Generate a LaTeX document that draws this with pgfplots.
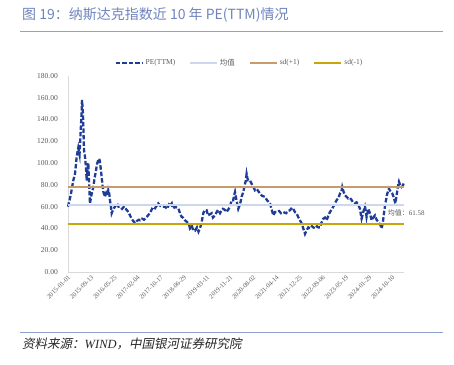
\documentclass[border=0pt]{standalone}
\usepackage{fontspec}
\setmainfont{Liberation Serif}
\newfontfamily\cjk{Noto Sans CJK SC}
\newfontfamily\cjkit[FakeSlant=0.2]{Noto Sans CJK SC}
\usepackage{pgfplots}
\usepackage{pgfplotstable}
\pgfplotsset{compat=1.18}
\definecolor{peblue}{HTML}{1F3C96}
\definecolor{meanblue}{HTML}{CDD8EF}
\definecolor{sdup}{HTML}{C89B6C}
\definecolor{sddn}{HTML}{C8A50A}
\definecolor{titleblue}{HTML}{6F84BD}
\definecolor{rulec}{HTML}{8FA2CF}
\definecolor{txt}{HTML}{595959}

\pgfplotstableread{
day pe
0 60
17 66
33 72
58 84
77 90
96 106
113 114
127 108
140 130
149 145
154 158
162 150
168 137
176 112
187 106
198 96
206 84
215 95
224 100
231 85
242 63
261 72
279 78
292 86
308 93
319 99
334 103
345 104
352 101
363 93
371 87
382 78
391 73
407 69
426 75
435 70
444 75
454 72
462 66
473 60
481 54
495 57
517 60
540 63
556 60
573 60
595 58
617 60
646 57
666 55
683 52
701 49
716 47
738 45
760 47
782 48
793 47.5
815 49
837 48
866 50.5
881 52
903 54
925 58
947 57
969 60
994 63
1013 61
1035 60
1068 60
1090 58
1112 62
1123 61
1142 63
1151 59
1160 58.5
1178 60
1200 59
1215 58.5
1233 54
1252 50.5
1266 50
1288 47.5
1310 46
1332 44
1343 40
1365 42
1380 38
1398 38
1420 41
1437 37
1453 40
1470 45
1490 54
1508 57
1527 56.7
1541 52
1563 53
1582 54
1596 50
1618 52
1637 55
1651 57
1674 54
1692 56.7
1707 58
1729 57
1747 55
1762 57
1784 60
1802 66
1820 66
1828 70
1839 73.5
1855 66
1875 58
1894 62
1912 69
1930 73.5
1949 81
1958 84
1967 90
1976 86
1985 84
2004 84
2022 81
2037 79
2059 75
2081 76
2114 72
2136 70
2169 69
2191 66
2224 63
2241 58
2261 52
2279 55
2298 55
2324 56
2346 54
2371 55
2401 54
2423 56
2444 56.7
2466 59
2481 58
2499 55
2518 53.7
2538 50
2554 47.5
2571 45
2591 40
2610 35
2626 38
2646 41
2664 40
2686 42
2701 41
2719 40
2741 42
2756 41
2774 41
2790 45
2811 49
2829 50
2848 47.5
2868 52
2884 55
2901 57
2921 60
2939 63
2958 66
2978 68
2995 72
3011 74
3020 78
3033 74
3050 70.5
3068 69
3086 67.5
3105 68
3124 66
3138 64
3160 63
3178 64
3196 62
3215 58
3226 52
3233 49
3251 55
3270 60
3281 55
3288 50.5
3306 58
3325 54
3343 47.5
3361 50
3380 52
3398 48
3417 46
3435 44
3454 40
3468 46
3479 53.7
3495 63
3516 72
3534 76.6
3552 74
3572 72
3589 68
3605 63
3627 75
3635 80
3644 83
3657 80
3673 78
3686 79
3695 81
3700 82
}\petable

\begin{document}
\begin{tikzpicture}
\useasboundingbox (0,0) rectangle (454bp,-365bp);
\node[anchor=west, inner sep=0pt, text=titleblue, font=\cjk\fontsize{14bp}{16bp}\selectfont] at (22bp,-15bp) {图 19：纳斯达克指数近 10 年 PE(TTM)情况};
\draw[rulec, line width=1bp] (20bp,-31bp) -- (443bp,-31bp);
\draw[rulec, line width=1bp] (20bp,-332bp) -- (443bp,-332bp);
\node[anchor=west, inner sep=0pt, text=black!85, font=\cjkit\fontsize{12.5bp}{14bp}\selectfont] at (22bp,-344bp) {资料来源：{\rmfamily\itshape WIND}，中国银河证券研究院};

\begin{axis}[
  at={(68bp,-272bp)}, anchor=south west,
  scale only axis, width=336bp, height=196bp,
  xmin=0, xmax=3700, ymin=0, ymax=180,
  clip=false,
  axis x line=bottom, axis y line=left,
  axis line style={-, draw=black!15, line width=0.8bp},
  major tick length=0pt,
  ytick={0,20,...,180},
  yticklabels={0.00,20.00,40.00,60.00,80.00,100.00,120.00,140.00,160.00,180.00},
  xtick={0,255,510,765,1020,1275,1530,1785,2040,2295,2550,2805,3060,3315,3570},
  xticklabels={2015-01-01,2015-09-13,2016-05-25,2017-02-04,2017-10-17,2018-06-29,2019-03-11,2019-11-21,2020-08-02,2021-04-14,2021-12-25,2022-09-06,2023-05-19,2024-01-29,2024-10-10},
  yticklabel style={font=\fontsize{7.5bp}{9bp}\selectfont, text=txt, inner sep=0pt, xshift=-10bp},
  xticklabel style={font=\fontsize{6.5bp}{8bp}\selectfont, text=txt, inner sep=0pt, rotate=45, anchor=east, xshift=-2bp, yshift=-4bp},
  legend image code/.code={\draw[#1] (0bp,0bp) -- (27bp,0bp);},
  legend columns=4,
  legend style={at={(0.51,1.066)}, anchor=center, draw=none, fill=none,
    font=\fontsize{7.5bp}{9bp}\selectfont, text=txt,
    /tikz/every even column/.append style={column sep=12bp}},
]
\addplot[peblue, line width=2.3bp, dash pattern=on 4.5bp off 2bp] table[x=day, y=pe] {\petable};
\addlegendentry{PE(TTM)}
\addplot[meanblue, line width=1.5bp] coordinates {(0,61.58) (3700,61.58)};
\addlegendentry{{\cjk 均值}}
\addplot[sdup, line width=2bp] coordinates {(0,78.3) (3700,78.3)};
\addlegendentry{sd(+1)}
\addplot[sddn, line width=2bp] coordinates {(0,44.1) (3700,44.1)};
\addlegendentry{sd(-1)}
\node[anchor=west, inner sep=0pt, text=txt, font=\fontsize{7bp}{9bp}\selectfont] at (axis cs:3520,54) {{\cjk 均值：}61.58};
\end{axis}
\end{tikzpicture}
\end{document}
